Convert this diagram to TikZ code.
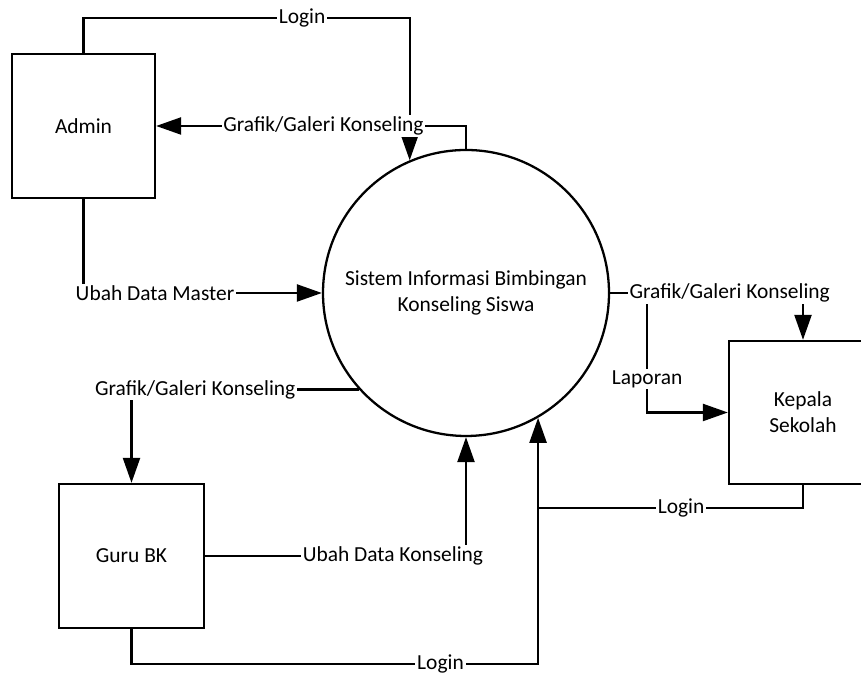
\documentclass[tikz,border=0pt]{standalone}
\usepackage{fontspec}
\setmainfont{Carlito}
\usetikzlibrary{arrows.meta,calc,positioning}

\begin{document}
\begin{tikzpicture}[font=\fontsize{12.2}{14.8}\selectfont]
  \tikzset{
    entity/.style={
      draw=black,
      fill=white,
      line width=1.3pt,
      minimum width=2.88cm,
      minimum height=2.88cm,
      align=center,
    },
    process/.style={
      circle,
      draw=black,
      line width=1.3pt,
      minimum size=5.72cm,
      align=center,
    },
    link/.style={line width=1.3pt},
    flow/.style={line width=1.3pt,-{Triangle[length=0.5cm,width=0.34cm]}},
    flowlabel/.style={fill=white,inner sep=1pt},
  }

  \path[use as bounding box] (0,0) rectangle (17.22,13.46);

  \node[process] (sys) at (9.32,7.60) {Sistem Informasi Bimbingan\\Konseling Siswa};
  \node[entity,minimum width=2.86cm] (admin) at (1.67,10.94) {Admin};
  \node[entity,minimum width=2.90cm] (guru) at (2.63,2.34) {Guru BK};
  \node[entity,minimum width=2.96cm,minimum height=2.86cm] (kepala) at (16.06,5.21)
    {Kepala\\Sekolah};

  % Admin <-> system
  \draw[flow] (admin.north) -- ++(0,0.70)
    -| node[flowlabel,pos=0.335] {Login} (sys.113.5);
  \draw[flow] (sys.north) |- node[flowlabel,pos=0.73] {Grafik/Galeri Konseling} (admin.east);
  \draw[flow] (admin.south) |- node[flowlabel,pos=0.65] {Ubah Data Master} (sys.west);

  % Guru BK <-> system
  \draw[flow] (sys.222.2) -| node[flowlabel,pos=0.36] {Grafik/Galeri Konseling} (guru.north);
  \draw[flow] (guru.east) -| node[flowlabel,pos=0.36] {Ubah Data Konseling} (sys.south);
  \draw[flow] (guru.south) -- ++(0,-0.70)
    -| node[flowlabel,pos=0.38] {Login} (sys.300.1);

  % Kepala Sekolah <-> system
  \coordinate (join) at (10.76,3.30);
  \draw[link] (kepala.south) |- node[flowlabel,pos=0.73] {Login} (join);
  \draw[flow] (sys.east) -- ++(0.74,0)
    |- node[flowlabel,pos=0.36] {Laporan} (kepala.west);
  \draw[flow] (sys.east) -| node[flowlabel,pos=0.31] {Grafik/Galeri Konseling} (kepala.north);
\end{tikzpicture}
\end{document}
